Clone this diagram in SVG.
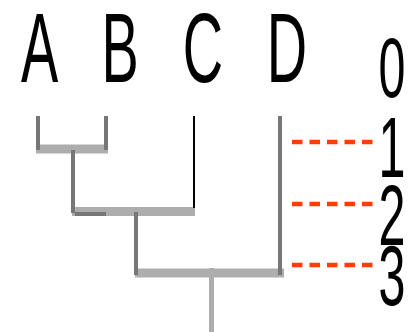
<svg xmlns="http://www.w3.org/2000/svg" width="411" height="332" viewBox="0 0 411 332">
  <style>
    .lbl { font-family: "Liberation Sans", Arial, sans-serif; font-size: 98px; fill: #000; text-anchor: middle; }
    .num { font-family: "Liberation Sans", Arial, sans-serif; font-size: 85px; fill: #000; text-anchor: middle; }
    .stem { stroke: #777; stroke-width: 4; fill: none; }
    .bar { stroke: #adadad; stroke-width: 9; fill: none; }
    .mark { stroke: #ff3d00; stroke-width: 4.5; stroke-dasharray: 10.5 7; fill: none; }
  </style>
  <rect width="411" height="332" fill="#fff"/>

  <!-- leaf labels -->
  <g id="leaf-A"><text class="lbl" transform="translate(39.5,82) scale(0.57,1)">A</text></g>
  <g id="leaf-B"><text class="lbl" transform="translate(120,82) scale(0.57,1)">B</text></g>
  <g id="leaf-C"><text class="lbl" transform="translate(203,82) scale(0.57,1)">C</text></g>
  <g id="leaf-D"><text class="lbl" transform="translate(287,82) scale(0.57,1)">D</text></g>

  <!-- level scale -->
  <g id="level-0"><text class="num" transform="translate(392,97) scale(0.57,1)">0</text></g>
  <g id="level-1"><text class="num" transform="translate(392,177) scale(0.57,1)">1</text></g>
  <g id="level-2"><text class="num" transform="translate(392,245) scale(0.57,1)">2</text></g>
  <g id="level-3"><text class="num" transform="translate(392,305) scale(0.57,1)">3</text></g>

  <g id="connectors">
    <!-- merge bars -->
    <line class="bar" x1="36" y1="149" x2="108" y2="149"/>
    <line class="bar" x1="72" y1="211.5" x2="195" y2="211.5"/>
    <line class="bar" x1="135" y1="273" x2="284" y2="273"/>
    <!-- branches -->
    <line class="stem" x1="38" y1="116" x2="38" y2="150"/>
    <line class="stem" x1="106" y1="116" x2="106" y2="150"/>
    <line class="stem" x1="73" y1="150" x2="73" y2="213"/>
    <line x1="75" y1="214" x2="106" y2="214" stroke="#777" stroke-width="4"/>
    <line x1="194" y1="116" x2="194" y2="208" stroke="#000" stroke-width="2"/>
    <line class="stem" x1="136" y1="212" x2="136" y2="275"/>
    <line class="stem" x1="280" y1="116" x2="280" y2="275"/>
    <line x1="211.5" y1="268" x2="211.5" y2="332" stroke="#adadad" stroke-width="5"/>
    <!-- level markers -->
    <line class="mark" x1="292" y1="142" x2="373" y2="142"/>
    <line class="mark" x1="292" y1="204" x2="373" y2="204"/>
    <line class="mark" x1="292" y1="265" x2="373" y2="265"/>
  </g>
</svg>
